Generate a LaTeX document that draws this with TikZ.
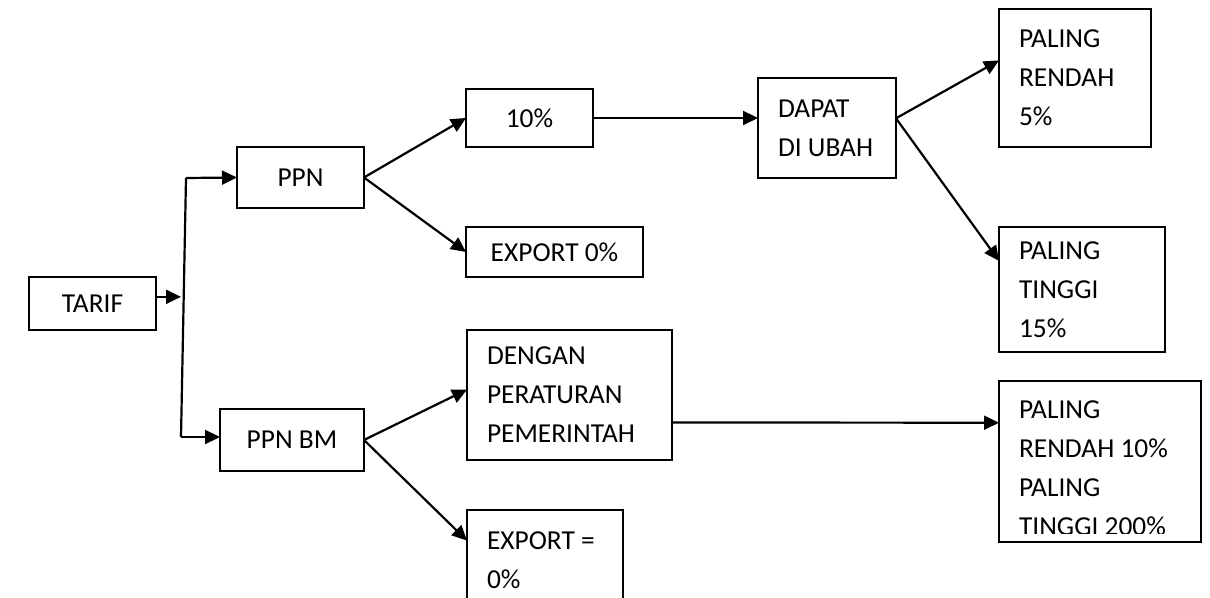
\documentclass[tikz,border=0pt]{standalone}
\usepackage{fontspec}
\setmainfont{Carlito}
\usetikzlibrary{arrows.meta}

\begin{document}
\begin{tikzpicture}[
    x=0.5pt, y=-0.5pt,
    box/.style={draw=black, line width=1.1pt, anchor=north west, inner sep=0pt, outer sep=0pt, align=center, font=\fontsize{13.7}{19.5}\selectfont},
    tbox/.style={box, align=flush left, inner xsep=10pt, text width=#1},
    arr/.style={-{Triangle[length=7.5pt, width=7pt]}, line width=1.1pt}
  ]
    \clip (0,0) rectangle (1210,598);

    \node[box, minimum width=63.5pt, minimum height=26.5pt] (tarif) at (29,277) {TARIF};
    \node[box, minimum width=63.5pt, minimum height=30.5pt] (ppn) at (237,147) {PPN};
    \node[box, minimum width=72pt, minimum height=31pt] (ppnbm) at (220,409) {PPN BM};
    \node[box, minimum width=63.5pt, minimum height=29pt] (ten) at (466,89) {10\%};
    \node[box, minimum width=88.5pt, minimum height=25pt] (exportppn) at (466,227) {EXPORT 0\%};
    \node[tbox=49pt, minimum height=50pt] (dapat) at (758,78) {DAPAT\\DI UBAH};
    \node[tbox=56pt, minimum height=69pt] (rendah) at (999,9) {PALING\\RENDAH\\5\%};
    \node[tbox=63pt, minimum height=62.5pt] (tinggi) at (999,227) {PALING\\TINGGI\\15\%};
    \node[tbox=82.5pt, minimum height=65pt] (dengan) at (467,330) {DENGAN\\PERATURAN\\PEMERINTAH};
    \node[tbox=58pt, minimum height=50pt] (exportbm) at (467,510) {EXPORT =\\0\%};
    \node[box, minimum width=101pt, minimum height=80.5pt] (pkey) at (999,381) {};
    \begin{scope}
      \clip (pkey.north west) rectangle ([yshift=4.5pt]pkey.south east);
      \node[tbox=81pt, draw=none, anchor=center] (pkeytext) at ([yshift=-3.6pt]pkey.center) {PALING\\RENDAH 10\%\\PALING\\TINGGI 200\%};
    \end{scope}

    % split after TARIF
    \coordinate (jtop) at (186,178);
    \coordinate (jbot) at (181,437);
    \draw[line width=1.1pt] (jtop) -- (jbot);
    \draw[arr] (tarif.6) -- (tarif.6 -| jbot);
    \draw[arr] (jtop) -- (ppn.west);
    \draw[arr] (jbot) -- (jbot -| ppnbm.west);

    \draw[arr] (ppn.east) -- (ten.west);
    \draw[arr] (ppn.east) -- (exportppn.west);
    \draw[arr] (ten.east) -- (ten.east -| dapat.west);
    \draw[arr] (dapat.8) -- (rendah.167);
    \draw[arr] (dapat.8) -- (tinggi.161);

    \draw[arr] (ppnbm.east) -- (dengan.177);
    \draw[arr] (ppnbm.east) -- (exportbm.166);
    \draw[arr] (dengan.-15) -- (pkey.159);
  \end{tikzpicture}
\end{document}
